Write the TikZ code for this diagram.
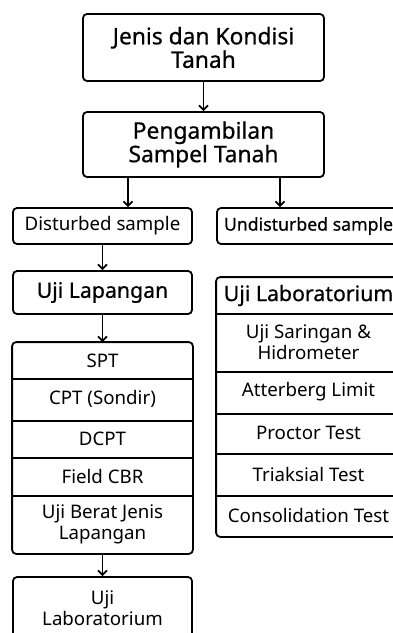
\documentclass[tikz,border=0pt]{standalone}
\usepackage{fontspec}
\setmainfont{Noto Sans}
\newfontfamily\medfont[FakeBold=0.6]{Noto Sans}
\usetikzlibrary{arrows.meta}

\begin{document}
\begin{tikzpicture}[x=1pt, y=-1pt, line width=1.8pt,
  every node/.style={font=\fontsize{18.7}{21}\selectfont, align=center, inner sep=0pt},
  box/.style={draw, rounded corners=4pt, minimum width=179pt},
  row/.style={minimum width=179pt},
  judul/.style={font=\medfont\fontsize{22.8}{23.5}\selectfont},
  kepala/.style={font=\medfont\fontsize{21.3}{22}\selectfont},
  arr/.style={-{Straight Barb[length=4.5pt,width=9pt]}, line width=1.7pt}]
\useasboundingbox (0,0) rectangle (393,633);
\clip (0,0) rectangle (393,633);
% top boxes
\node[box, judul, minimum width=241pt, minimum height=67pt] (jenis) at (203.5,47.5) {Jenis dan Kondisi\\Tanah};
\node[box, judul, minimum width=241pt, minimum height=65pt] (ambil) at (203.5,144.5) {Pengambilan\\Sampel Tanah};
\node[box, minimum height=36pt] (dist) at (102.5,226) {Disturbed sample};
\node[box, minimum width=183pt, minimum height=36pt, font=\medfont\fontsize{17.7}{20}\selectfont] (undist) at (308.5,226) {Undisturbed sample};
\node[box, kepala, minimum height=43pt] (lapangan) at (102.5,292.5) {Uji Lapangan};
% uji lapangan rows
\node[row, minimum height=35pt] (spt) at (102.5,360.5) {SPT};
\node[row, minimum height=42pt] (cpt) at (102.5,399) {CPT (Sondir)};
\node[row, minimum height=37pt] (dcpt) at (102.5,438.5) {DCPT};
\node[row, minimum height=38pt] (cbr) at (102.5,476) {Field CBR};
\node[row, minimum height=58pt] (ujb) at (102.5,524) {Uji Berat Jenis\\Lapangan};
\draw[rounded corners=4pt] (spt.north west) rectangle (ujb.south east);
\foreach \r in {spt,cpt,dcpt,cbr}
  \draw (\r.south west) -- (\r.south east);
\node[box, minimum height=63pt] (lab) at (102.5,608.5) {Uji\\Laboratorium};
% uji laboratorium rows
\node[row, kepala, minimum width=183pt, minimum height=35pt] (head) at (308.5,295.5) {Uji Laboratorium};
\node[row, minimum width=183pt, minimum height=58pt] (saring) at (308.5,342) {Uji Saringan \&\\Hidrometer};
\node[row, minimum width=183pt, minimum height=42pt] (atter) at (308.5,392) {Atterberg Limit};
\node[row, minimum width=183pt, minimum height=40pt] (proctor) at (308.5,433) {Proctor Test};
\node[row, minimum width=183pt, minimum height=42pt] (triak) at (308.5,474) {Triaksial Test};
\node[row, minimum width=183pt, minimum height=41pt] (consol) at (308.5,515.5) {Consolidation Test};
\draw[rounded corners=4pt] (head.north west) rectangle (consol.south east);
\foreach \r in {head,saring,atter,proctor,triak}
  \draw (\r.south west) -- (\r.south east);
% arrows
\coordinate (kiri) at (128,0);
\coordinate (kanan) at (280,0);
\draw[arr] (jenis) -- (ambil);
\draw[arr] (ambil.south -| kiri) -- (dist.north -| kiri);
\draw[arr] (ambil.south -| kanan) -- (undist.north -| kanan);
\draw[arr] (dist) -- (lapangan);
\draw[arr] (lapangan) -- (spt);
\draw[arr] (ujb) -- (lab);
\end{tikzpicture}
\end{document}
